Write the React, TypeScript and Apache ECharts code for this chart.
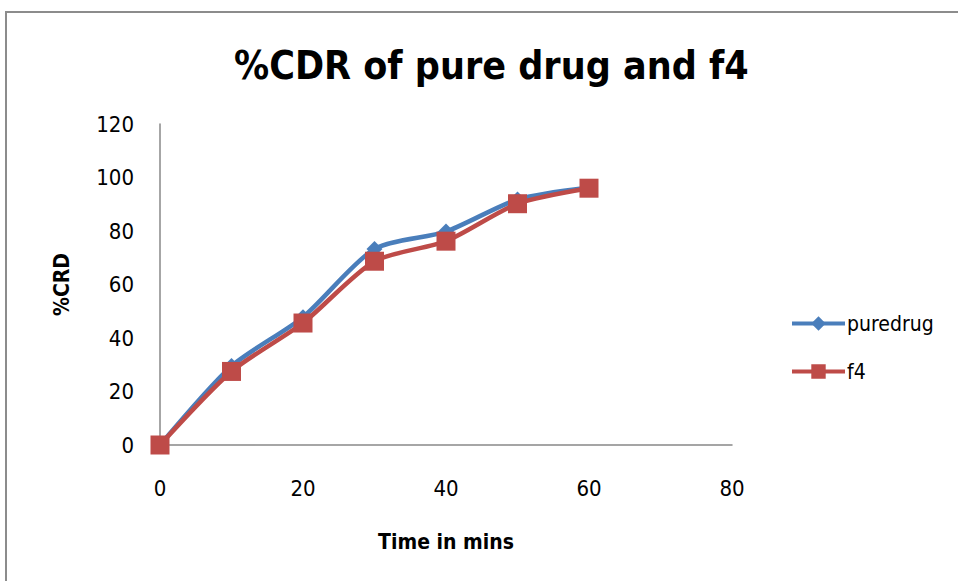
import React, { useEffect, useRef } from "react";
import * as echarts from "echarts";

// Cumulative drug release (%) sampled every 10 minutes
const timeMins = [0, 10, 20, 30, 40, 50, 60];
const pureDrug = [0, 29.5, 47.8, 73.3, 79.8, 91.8, 96.3];
const f4 = [0, 27.5, 45.6, 68.7, 76.2, 90.2, 96.0];
const xTicks = [0, 20, 40, 60, 80];
const yTicks = [0, 20, 40, 60, 80, 100, 120];

const FONT = "'Liberation Sans Narrow', 'DejaVu Sans Condensed', 'Noto Sans', sans-serif";
const BLUE = "#4A7EBB";
const RED = "#BE4B48";

export default function App() {
  const ref = useRef<HTMLDivElement>(null);

  useEffect(() => {
    if (!ref.current) return;
    const chart = echarts.init(ref.current, undefined, { renderer: "svg" });
    const toPairs = (ys: number[]) => timeMins.map((t, i) => [t, ys[i]]);

    chart.setOption({
      animation: false,
      backgroundColor: "#ffffff",
      title: {
        text: "%CDR of pure drug and f4",
        left: 234,
        top: 46,
        padding: 0,
        textStyle: { fontFamily: FONT, fontWeight: "bold", fontSize: 39, color: "#000" },
      },
      graphic: [
        {
          type: "rect",
          shape: { x: 6, y: 12, width: 960, height: 580 },
          style: { fill: "none", stroke: "#8c8c8c", lineWidth: 2 },
          silent: true,
        },
      ],
      legend: {
        orient: "vertical",
        left: 785,
        top: 308,
        itemWidth: 53,
        itemHeight: 18,
        itemGap: 27,
        lineStyle: { width: 4 },
        textStyle: { fontFamily: FONT, fontSize: 21, color: "#000", padding: [0, 0, 0, -3] },
        data: ["puredrug", "f4"],
      },
      grid: { left: 160, right: 226, top: 124, bottom: 136 },
      xAxis: {
        type: "value",
        min: xTicks[0],
        max: xTicks[xTicks.length - 1],
        interval: 20,
        name: "Time in mins",
        nameLocation: "middle",
        nameGap: 86,
        nameTextStyle: { fontFamily: FONT, fontWeight: "bold", fontSize: 21, color: "#000", verticalAlign: "top" },
        axisLine: { lineStyle: { color: "#888", width: 1.5 } },
        axisTick: { show: false },
        splitLine: { show: false },
        axisLabel: { margin: 32, fontFamily: FONT, fontSize: 22, color: "#000" },
      },
      yAxis: {
        type: "value",
        min: yTicks[0],
        max: yTicks[yTicks.length - 1],
        interval: 20,
        name: "%CRD",
        nameLocation: "middle",
        nameRotate: 90,
        nameGap: 88,
        nameTextStyle: { fontFamily: FONT, fontWeight: "bold", fontSize: 21, color: "#000" },
        axisLine: { show: true, lineStyle: { color: "#888", width: 1.5 } },
        axisTick: { show: false },
        splitLine: { show: false },
        axisLabel: { margin: 26, fontFamily: FONT, fontSize: 22, color: "#000" },
      },
      series: [
        {
          name: "puredrug",
          type: "line",
          data: toPairs(pureDrug),
          smooth: 0.25,
          symbol: "diamond",
          symbolSize: 16,
          lineStyle: { color: BLUE, width: 4.5 },
          itemStyle: { color: BLUE },
          z: 2,
        },
        {
          name: "f4",
          type: "line",
          data: toPairs(f4),
          smooth: 0.25,
          symbol: "rect",
          symbolSize: 19,
          lineStyle: { color: RED, width: 4.5 },
          itemStyle: { color: RED },
          z: 3,
        },
      ],
    });

    return () => chart.dispose();
  }, []);

  return (
    <div
      ref={ref}
      style={{ position: "fixed", left: 0, top: 0, width: 958, height: 581, background: "#fff" }}
    />
  );
}
